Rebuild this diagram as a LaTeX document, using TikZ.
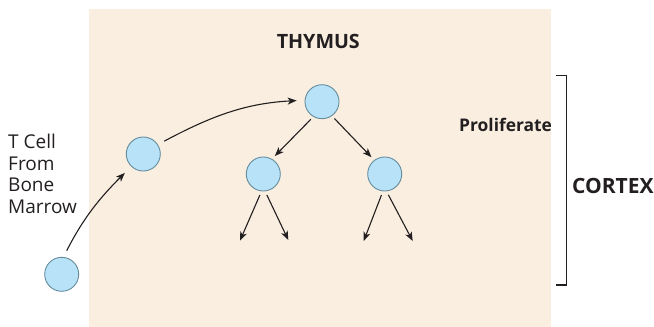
\documentclass[tikz,border=0pt]{standalone}
\usepackage{fontspec}
\setmainfont{Open Sans}
\usetikzlibrary{arrows.meta}
\definecolor{bgbeige}{RGB}{249,238,224}
\definecolor{cellfill}{RGB}{184,226,247}
\definecolor{celldraw}{RGB}{100,140,156}
\definecolor{ink}{RGB}{35,31,32}
\begin{document}
\begin{tikzpicture}[x=1pt,y=1pt,
  cell/.style={circle,draw=celldraw,fill=cellfill,line width=0.9pt,minimum size=34pt,inner sep=0pt},
  arr/.style={draw=ink,line width=1.1pt,-{Stealth[length=9pt,width=7pt,inset=2.5pt]}},
  lbl/.style={text=ink,inner sep=0pt,font=\fontsize{19}{21.7}\selectfont},
  blbl/.style={text=ink,inner sep=0pt}]
\useasboundingbox (0,0) rectangle (654,327);
\fill[bgbeige] (89,0) rectangle (551,318);
% cells
\node[cell] (c0) at (61.7,52.7) {};
\node[cell] (c1) at (143.3,173) {};
\node[cell] (c2) at (322,225.3) {};
\node[cell] (c3) at (263.3,153) {};
\node[cell] (c4) at (384.7,153) {};
% free ends
\coordinate (c3l) at (240,86.3);
\coordinate (c3r) at (288.3,87);
\coordinate (c4l) at (363.7,86);
\coordinate (c4r) at (412.7,86);
% arrows
\draw[arr,shorten <=7pt,shorten >=9pt] (c0.84) to[out=63,in=225] (c1.226);
\draw[arr,shorten <=7pt,shorten >=8pt] (c1.33) to[out=28,in=183] (c2.175);
\draw[arr,shorten <=3.5pt,shorten >=4pt] (c2.240) -- (c3.60);
\draw[arr,shorten <=3.5pt,shorten >=4pt] (c2.305) -- (c4.127);
\draw[arr,shorten <=4pt] (c3.264) -- (c3l);
\draw[arr,shorten <=4pt] (c3.276) -- (c3r);
\draw[arr,shorten <=4pt] (c4.264) -- (c4l);
\draw[arr,shorten <=4pt] (c4.276) -- (c4r);
% bracket
\draw[ink,line width=1.6pt] (556.3,251.3) -- (566.3,251.3) -- (566.3,42) -- (556.3,42);
% labels
\node[blbl,anchor=base,font=\fontsize{19.7}{22}\selectfont\bfseries] (thy) at (318.3,278.7) {THYMUS};
\node[blbl,anchor=base west,font=\fontsize{17.4}{20}\selectfont\bfseries] (pro) at (459,195) {Proliferate};
\node[blbl,anchor=base west,font=\fontsize{21}{24}\selectfont\bfseries] (cor) at (572,133.7) {CORTEX};
\node[lbl,anchor=base west,align=left] (tc) at (8,113.5) {T Cell\\From\\Bone\\Marrow};
\end{tikzpicture}
\end{document}
